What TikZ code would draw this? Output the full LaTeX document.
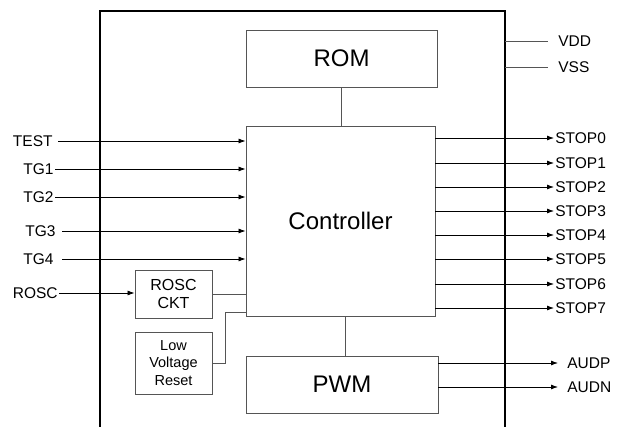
\documentclass[tikz,border=0pt]{standalone}
\usepackage{fontspec}
\setmainfont{Liberation Sans}
\usetikzlibrary{arrows.meta}
\definecolor{myGray}{HTML}{555555}

\begin{document}
\begin{tikzpicture}[x=1pt, y=-1pt, >={Latex[length=7pt,width=5pt]}, line width=0.8pt]

  \tikzstyle{B}=[rectangle,draw=myGray,line width=0.9pt,inner sep=0pt,font=\fontsize{24}{28}\selectfont]
  \tikzstyle{S}=[rectangle,draw=myGray,line width=0.9pt,inner sep=0pt,align=center,font=\fontsize{16}{18}\selectfont]
  \tikzstyle{L}=[inner sep=1pt,font=\fontsize{15.5}{18}\selectfont]

  \useasboundingbox (0,0) rectangle (618,427);

  % chip outline (open at the bottom)
  \draw [line width=1.3pt] (100,427) -- (100,11) -- (505,11) -- (505,427);

  \node[B,minimum width=191pt,minimum height=57pt] at (341.5,58.5) (rom) {ROM};
  \node[B,minimum width=189pt,minimum height=190pt] at (340.5,221) (ctrl) {Controller};
  \node[B,minimum width=192pt,minimum height=57pt] at (342,384.5) (pwm) {PWM};

  \node[S,minimum width=77pt,minimum height=48pt] at (173.5,294) (roscckt) {ROSC\\CKT};
  \node[S,minimum width=77pt,minimum height=62pt,font=\fontsize{14.5}{17.5}\selectfont] at (173.5,363) (lvr) {Low\\Voltage\\Reset};

  % inputs
  \node[L,anchor=east] at (54,141) (test) {TEST};
  \node[L,anchor=east] at (55,169) (tg1) {TG1};
  \node[L,anchor=east] at (55,197) (tg2) {TG2};
  \node[L,anchor=east] at (57,231) (tg3) {TG3};
  \node[L,anchor=east] at (55,259) (tg4) {TG4};
  \node[L,anchor=east] at (59,293) (rosc) {ROSC};

  % outputs
  \node[L,anchor=west] at (554,138) (stop0) {STOP0};
  \node[L,anchor=west] at (554,163) (stop1) {STOP1};
  \node[L,anchor=west] at (554,187) (stop2) {STOP2};
  \node[L,anchor=west] at (554,211) (stop3) {STOP3};
  \node[L,anchor=west] at (554,235) (stop4) {STOP4};
  \node[L,anchor=west] at (554,259) (stop5) {STOP5};
  \node[L,anchor=west] at (554,284) (stop6) {STOP6};
  \node[L,anchor=west] at (554,308) (stop7) {STOP7};
  \node[L,anchor=west] at (566,363) (audp) {AUDP};
  \node[L,anchor=west] at (566,387) (audn) {AUDN};

  % supply
  \node[L,anchor=west] at (557,41) (vdd) {VDD};
  \node[L,anchor=west] at (557,67) (vss) {VSS};
  \coordinate (vddend) at (548,41);
  \coordinate (vssend) at (548,67);

  \draw [myGray] (rom.south) to (rom.south |- ctrl.north);
  \draw [myGray] ([xshift=4.5pt]ctrl.south) to ([xshift=4.5pt]ctrl.south |- pwm.north);
  \draw [myGray] (roscckt.east) to (roscckt.east -| ctrl.west);
  \draw [myGray] (lvr.east) -| (225,312) to (225,312 -| ctrl.west);

  \draw [->, shorten <=4pt] (test.east) to (test.east -| ctrl.west);
  \draw [->] (tg1.east) to (tg1.east -| ctrl.west);
  \draw [->] (tg2.east) to (tg2.east -| ctrl.west);
  \draw [->, shorten <=5pt] (tg3.east) to (tg3.east -| ctrl.west);
  \draw [->, shorten <=7pt] (tg4.east) to (tg4.east -| ctrl.west);
  \draw [->] (rosc.east) to (rosc.east -| roscckt.west);

  \draw [->] (stop0.west -| ctrl.east) to (stop0.west);
  \draw [->] (stop1.west -| ctrl.east) to (stop1.west);
  \draw [->] (stop2.west -| ctrl.east) to (stop2.west);
  \draw [->] (stop3.west -| ctrl.east) to (stop3.west);
  \draw [->] (stop4.west -| ctrl.east) to (stop4.west);
  \draw [->] (stop5.west -| ctrl.east) to (stop5.west);
  \draw [->] (stop6.west -| ctrl.east) to (stop6.west);
  \draw [->] (stop7.west -| ctrl.east) to (stop7.west);

  \draw [->, shorten >=8pt] (audp.west -| pwm.east) to (audp.west);
  \draw [->, shorten >=8pt] (audn.west -| pwm.east) to (audn.west);

  \draw [myGray] (vddend -| 505,0) to (vddend);
  \draw [myGray] (vssend -| 505,0) to (vssend);

\end{tikzpicture}
\end{document}
